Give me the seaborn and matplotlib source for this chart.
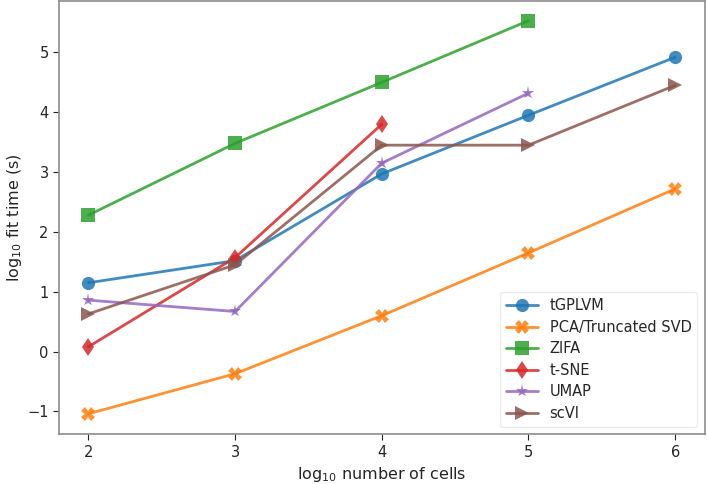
import pandas as pd
import matplotlib.pyplot as plt
import seaborn as sns

# log10 number of cells vs log10 fit time
methods = ['tGPLVM', 'PCA/Truncated SVD', 'ZIFA', 't-SNE', 'UMAP', 'scVI']
cells_tgplvm = [2, 3, 4, 5, 6]
time_tgplvm = [1.15, 1.52, 2.97, 3.95, 4.92]
cells_pca = [2, 3, 4, 5, 6]
time_pca = [-1.04, -0.37, 0.60, 1.65, 2.72]
cells_zifa = [2, 3, 4, 5]
time_zifa = [2.28, 3.48, 4.50, 5.53]
cells_tsne = [2, 3, 4]
time_tsne = [0.08, 1.57, 3.80]
cells_umap = [2, 3, 4, 5]
time_umap = [0.86, 0.67, 3.15, 4.32]
cells_scvi = [2, 3, 4, 5, 6]
time_scvi = [0.63, 1.45, 3.45, 3.45, 4.45]

marker_list = ['o', 'X', 's', 'd', '*', '>']

cells = [cells_tgplvm, cells_pca, cells_zifa, cells_tsne, cells_umap, cells_scvi]
times = [time_tgplvm, time_pca, time_zifa, time_tsne, time_umap, time_scvi]
rows = []
for m, xs, ys in zip(methods, cells, times):
    for x, y in zip(xs, ys):
        rows.append({'method': m, 'cells': x, 'time': y})
df = pd.DataFrame(rows)

sns.set_style('ticks')
plt.rcParams['font.family'] = ['DejaVu Sans']

fig = plt.figure(figsize=(7.07, 4.84), dpi=100)
ax = fig.add_axes([0.0835, 0.103, 0.913, 0.895])

sns.lineplot(data=df, x='cells', y='time', hue='method', style='method',
             hue_order=methods, style_order=methods,
             markers=dict(zip(methods, marker_list)), dashes=False,
             palette='tab10', linewidth=2, markersize=9.5, markeredgewidth=0,
             alpha=0.85, ax=ax)

ax.set_xlim(1.8, 6.2)
ax.set_ylim(-1.38, 5.86)
ax.set_xticks([2, 3, 4, 5, 6])
ax.set_yticks([-1, 0, 1, 2, 3, 4, 5])
ax.set_xlabel('log$_{10}$ number of cells', fontsize=11.5, color='#262626', labelpad=4)
ax.set_ylabel('log$_{10}$ fit time (s)', fontsize=11.5, color='#262626', labelpad=2)
ax.tick_params(labelsize=10.5, colors='#262626', length=4)
for s in ax.spines.values():
    s.set_color('#8c8c8c')
    s.set_linewidth(1.2)

leg = ax.legend(loc='lower right', fontsize=10.5, frameon=True,
                handlelength=2.2, labelspacing=0.45)
leg.get_frame().set_edgecolor('#e6e6e6')

fig.savefig('out.png', dpi=100)
